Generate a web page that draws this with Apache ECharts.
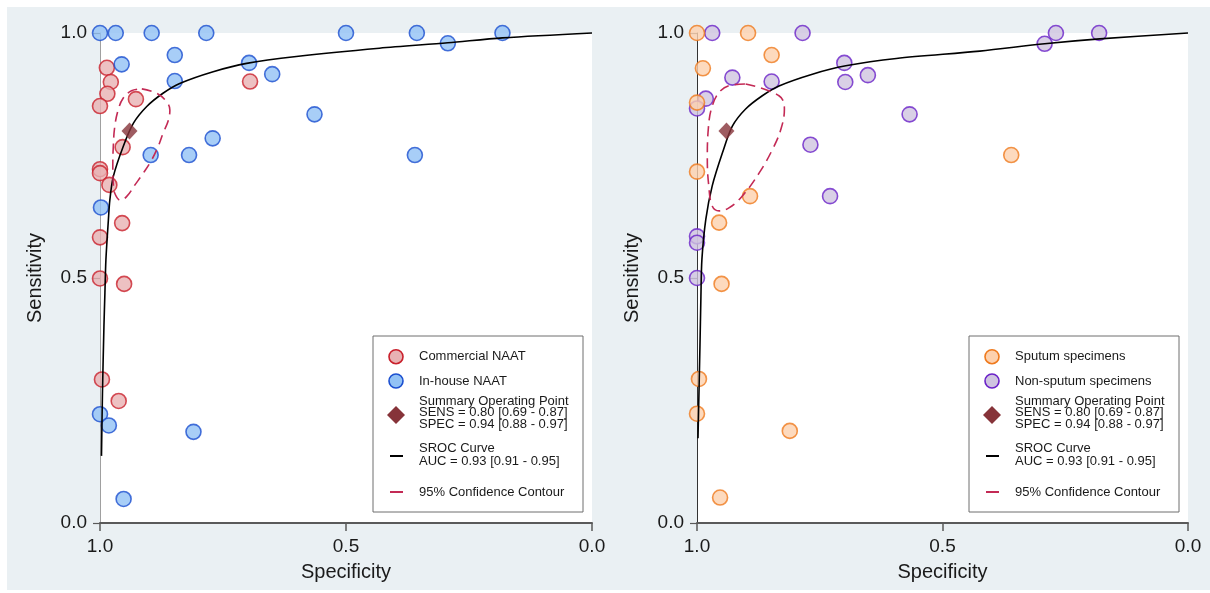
<!DOCTYPE html>
<html>
<head>
<meta charset="utf-8">
<title>SROC plots</title>
<script src="https://cdn.jsdelivr.net/npm/echarts@6/dist/echarts.min.js"></script>
<style>
  html, body { margin: 0; padding: 0; background: #ffffff; }
  #chart { width: 1210px; height: 593px; }
</style>
</head>
<body>
<div id="chart"></div>
<script>
// Study estimates as [specificity, sensitivity]
const commercialNAAT = [
  [0.986, 0.929], [0.978, 0.900], [0.985, 0.876], [1.000, 0.851], [0.927, 0.865],
  [0.695, 0.901], [0.954, 0.767], [1.000, 0.722], [1.000, 0.714], [0.981, 0.690],
  [0.955, 0.612], [1.000, 0.583], [1.000, 0.499], [0.951, 0.488], [0.996, 0.293],
  [0.962, 0.249]
];
const inHouseNAAT = [
  [1.000, 1.000], [0.968, 1.000], [0.895, 1.000], [0.784, 1.000], [0.500, 1.000],
  [0.356, 1.000], [0.293, 0.979], [0.182, 1.000], [0.360, 0.751], [0.848, 0.955],
  [0.956, 0.936], [0.697, 0.939], [0.650, 0.916], [0.848, 0.902], [0.564, 0.834],
  [0.771, 0.785], [0.897, 0.751], [0.819, 0.751], [0.998, 0.644], [1.000, 0.222],
  [0.982, 0.199], [0.810, 0.186], [0.952, 0.049]
];
const sputumSpecimens = [
  [1.000, 1.000], [0.896, 1.000], [0.848, 0.955], [0.988, 0.928], [1.000, 0.858],
  [1.000, 0.717], [0.892, 0.667], [0.955, 0.613], [0.950, 0.488], [0.360, 0.751],
  [0.996, 0.294], [1.000, 0.223], [0.811, 0.188], [0.953, 0.052]
];
const nonSputumSpecimens = [
  [0.969, 1.000], [0.785, 1.000], [0.928, 0.909], [0.848, 0.901], [0.982, 0.866],
  [1.000, 0.846], [0.700, 0.939], [0.698, 0.900], [0.652, 0.914], [0.567, 0.834],
  [0.769, 0.772], [0.729, 0.667], [1.000, 0.585], [1.000, 0.572], [1.000, 0.500],
  [0.292, 0.978], [0.269, 1.000], [0.181, 1.000]
];

// Summary operating point (SPEC, SENS)
const summaryPoint = [[0.94, 0.80]];

// SROC curve traced as [specificity, sensitivity]
const srocLeft = [
  [0.997, 0.137], [0.995, 0.265], [0.992, 0.401], [0.990, 0.470], [0.988, 0.537],
  [0.983, 0.618], [0.980, 0.659], [0.973, 0.707], [0.953, 0.768], [0.932, 0.816],
  [0.905, 0.850], [0.872, 0.877], [0.838, 0.897], [0.770, 0.921], [0.702, 0.938],
  [0.601, 0.952], [0.432, 0.969], [0.293, 0.980], [0.182, 0.990], [0.000, 1.000]
];
const srocRight = [
  [0.998, 0.173], [0.994, 0.360], [0.992, 0.463], [0.990, 0.538], [0.982, 0.620],
  [0.969, 0.688], [0.948, 0.756], [0.928, 0.810], [0.901, 0.845], [0.867, 0.872],
  [0.833, 0.892], [0.765, 0.916], [0.697, 0.933], [0.594, 0.948], [0.424, 0.963],
  [0.292, 0.978], [0.180, 0.988], [0.000, 1.000]
];

// 95% confidence contour around the summary point
const contourLeft = [
  [0.915, 0.886], [0.885, 0.877], [0.865, 0.860], [0.858, 0.843], [0.861, 0.822],
  [0.872, 0.795], [0.882, 0.768], [0.895, 0.741], [0.912, 0.714], [0.929, 0.690],
  [0.946, 0.666], [0.959, 0.659], [0.970, 0.673], [0.973, 0.693], [0.974, 0.727],
  [0.973, 0.768], [0.970, 0.809], [0.963, 0.843], [0.953, 0.867], [0.936, 0.882],
  [0.915, 0.886]
];
const contourRight = [
  [0.901, 0.896], [0.833, 0.872], [0.822, 0.845], [0.829, 0.804], [0.846, 0.763],
  [0.873, 0.715], [0.908, 0.667], [0.935, 0.643], [0.955, 0.637], [0.969, 0.647],
  [0.976, 0.688], [0.979, 0.742], [0.977, 0.804], [0.969, 0.851], [0.952, 0.882],
  [0.928, 0.894], [0.901, 0.896]
];

const axisTicks = [0, 0.5, 1];

const FONT = '"Liberation Sans", Arial, sans-serif';
const TEXT = '#1a1a1a';

const colors = {
  commercial: { fill: '#e8b2b3', stroke: '#c9202c' },
  inHouse:    { fill: '#92c2f5', stroke: '#1b4fd0' },
  sputum:     { fill: '#fdd1ae', stroke: '#ef7a1e' },
  nonSputum:  { fill: '#cfc4e0', stroke: '#6a22c8' },
  summary: '#863339',
  sroc: '#000000',
  contour: '#c32a55'
};

function xAxisFor(i) {
  return {
    type: 'value', gridIndex: i, min: 0, max: 1, interval: 0.5, inverse: true,
    splitLine: { show: false },
    axisLine: { show: true, onZero: false, lineStyle: { color: '#5a5a5a', width: 2 } },
    axisTick: { show: true, length: 8, lineStyle: { color: '#5a5a5a', width: 1.5 } },
    axisLabel: {
      fontSize: 19, fontFamily: FONT, color: TEXT, margin: 14,
      formatter: v => axisTicks.indexOf(v) >= 0 ? v.toFixed(1) : ''
    },
    name: 'Specificity', nameLocation: 'middle', nameGap: 39,
    nameTextStyle: { fontSize: 20, fontFamily: FONT, color: TEXT }
  };
}
function yAxisFor(i, lineColor) {
  return {
    type: 'value', gridIndex: i, min: 0, max: 1, interval: 0.5,
    splitLine: { show: false },
    axisLine: { show: true, onZero: false, lineStyle: { color: lineColor, width: 1 } },
    axisTick: { show: true, length: 7, lineStyle: { color: '#5a5a5a', width: 1.2 } },
    axisLabel: {
      fontSize: 19, fontFamily: FONT, color: TEXT, margin: 13,
      formatter: v => v.toFixed(1)
    },
    name: 'Sensitivity', nameLocation: 'middle', nameGap: 55,
    nameTextStyle: { fontSize: 20, fontFamily: FONT, color: TEXT }
  };
}

function studies(name, data, c, i) {
  return {
    name, type: 'scatter', xAxisIndex: i, yAxisIndex: i, data, clip: false,
    symbol: 'circle', symbolSize: 15,
    itemStyle: { color: c.fill, borderColor: c.stroke, borderWidth: 1.6 },
    z: 3
  };
}
function srocLine(data, i) {
  return {
    type: 'line', xAxisIndex: i, yAxisIndex: i, data, smooth: 0.3,
    showSymbol: false, clip: false,
    lineStyle: { color: colors.sroc, width: 1.6 }, z: 4
  };
}
function contourLine(data, i) {
  return {
    type: 'line', xAxisIndex: i, yAxisIndex: i, data, smooth: 0.4,
    showSymbol: false, clip: false,
    lineStyle: { color: colors.contour, width: 1.6, type: [10, 6] }, z: 4
  };
}
function summaryMark(i) {
  return {
    type: 'scatter', xAxisIndex: i, yAxisIndex: i, data: summaryPoint,
    symbol: 'diamond', symbolSize: [16, 17],
    itemStyle: { color: colors.summary }, z: 5
  };
}

// Legend panel drawn as a boxed key
function legendBox(x0, first, second) {
  const t = (x, y, s) => ({
    type: 'text', x, y,
    style: { text: s, fontSize: 13, fontFamily: FONT, fill: TEXT, verticalAlign: 'middle' }
  });
  const mx = x0 + 23, tx = x0 + 46;
  return {
    type: 'group', silent: true,
    children: [
      { type: 'rect', shape: { x: x0, y: 336, width: 210, height: 176 },
        style: { fill: '#ffffff', stroke: '#6e6e6e', lineWidth: 1 } },
      { type: 'circle', shape: { cx: mx, cy: 356.7, r: 7 },
        style: { fill: first.c.fill, stroke: first.c.stroke, lineWidth: 1.6 } },
      t(tx, 356.7, first.label),
      { type: 'circle', shape: { cx: mx, cy: 381, r: 7 },
        style: { fill: second.c.fill, stroke: second.c.stroke, lineWidth: 1.6 } },
      t(tx, 381, second.label),
      { type: 'polygon', shape: { points: [[mx, 406], [mx + 9, 415], [mx, 424], [mx - 9, 415]] },
        style: { fill: colors.summary } },
      t(tx, 401, 'Summary Operating Point'),
      t(tx, 412.7, 'SENS = 0.80 [0.69 - 0.87]'),
      t(tx, 424.3, 'SPEC = 0.94 [0.88 - 0.97]'),
      { type: 'line', shape: { x1: mx - 6, y1: 456, x2: mx + 7, y2: 456 },
        style: { stroke: colors.sroc, lineWidth: 2 } },
      t(tx, 448.3, 'SROC Curve'),
      t(tx, 461, 'AUC = 0.93 [0.91 - 0.95]'),
      { type: 'line', shape: { x1: mx - 6, y1: 492, x2: mx + 7, y2: 492 },
        style: { stroke: colors.contour, lineWidth: 2 } },
      t(tx, 492, '95% Confidence Contour')
    ]
  };
}

const chart = echarts.init(document.getElementById('chart'), null, { renderer: 'canvas' });
chart.setOption({
  backgroundColor: '#ffffff',
  animation: false,
  grid: [
    { left: 100, top: 33, width: 492, height: 490, show: true, backgroundColor: '#ffffff', borderWidth: 0 },
    { left: 697, top: 33, width: 491, height: 490, show: true, backgroundColor: '#ffffff', borderWidth: 0 }
  ],
  xAxis: [xAxisFor(0), xAxisFor(1)],
  yAxis: [yAxisFor(0, '#a0a0a0'), yAxisFor(1, '#333333')],
  graphic: [
    { type: 'rect', z: -100, silent: true, shape: { x: 7, y: 7, width: 1203, height: 583 },
      style: { fill: '#eaf0f3' } },
    legendBox(373, { label: 'Commercial NAAT', c: colors.commercial },
                   { label: 'In-house NAAT', c: colors.inHouse }),
    legendBox(969, { label: 'Sputum specimens', c: colors.sputum },
                   { label: 'Non-sputum specimens', c: colors.nonSputum })
  ],
  series: [
    studies('Commercial NAAT', commercialNAAT, colors.commercial, 0),
    studies('In-house NAAT', inHouseNAAT, colors.inHouse, 0),
    srocLine(srocLeft, 0),
    contourLine(contourLeft, 0),
    summaryMark(0),
    studies('Non-sputum specimens', nonSputumSpecimens, colors.nonSputum, 1),
    studies('Sputum specimens', sputumSpecimens, colors.sputum, 1),
    srocLine(srocRight, 1),
    contourLine(contourRight, 1),
    summaryMark(1)
  ]
});
</script>
</body>
</html>
